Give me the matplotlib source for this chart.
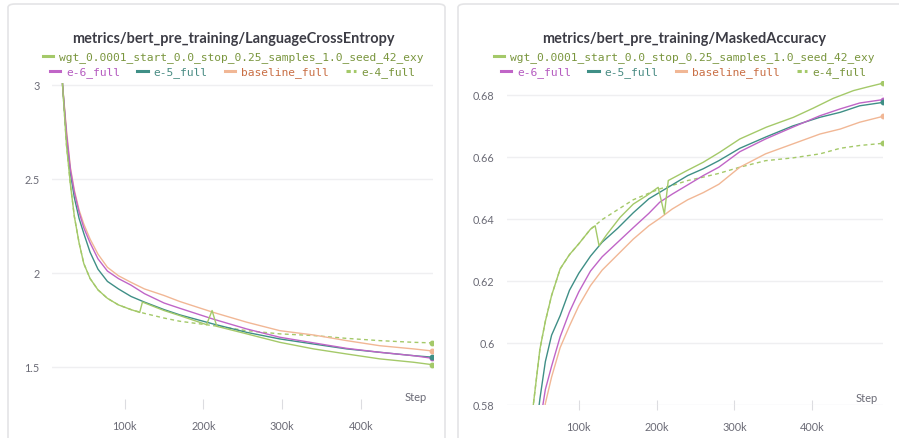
import numpy as np
import matplotlib.pyplot as plt
from matplotlib.patches import FancyBboxPatch

# steps (k) shared by the plain runs
steps_l = [12, 21, 26, 31, 36, 42, 48, 56, 66, 78, 92, 108, 125, 150, 170, 212, 255, 297, 340, 382, 424, 467, 491]
e6_l = [4.0, 3.0, 2.74, 2.55, 2.43, 2.323, 2.24, 2.16, 2.075, 2.01, 1.97, 1.935, 1.89, 1.84, 1.812, 1.755, 1.702, 1.658, 1.628, 1.599, 1.578, 1.560, 1.546]
e5_l = [4.0, 3.0, 2.72, 2.53, 2.40, 2.29, 2.21, 2.11, 2.02, 1.955, 1.915, 1.875, 1.845, 1.805, 1.777, 1.729, 1.684, 1.649, 1.622, 1.596, 1.578, 1.560, 1.552]
base_l = [4.0, 3.0, 2.76, 2.56, 2.44, 2.335, 2.26, 2.18, 2.10, 2.03, 1.985, 1.95, 1.915, 1.88, 1.848, 1.791, 1.738, 1.693, 1.670, 1.640, 1.613, 1.596, 1.585]
e4_l = [4.0, 3.0, 2.68, 2.47, 2.30, 2.16, 2.05, 1.97, 1.91, 1.865, 1.83, 1.805, 1.785, 1.76, 1.743, 1.72, 1.693, 1.676, 1.667, 1.652, 1.640, 1.631, 1.628]
wgt_steps_l = [12, 21, 26, 31, 36, 42, 48, 56, 66, 78, 92, 108, 119, 122.5, 150, 170, 204, 211, 217, 255, 297, 340, 382, 424, 467, 491]
wgt_l = [4.0, 3.0, 2.68, 2.47, 2.30, 2.16, 2.05, 1.97, 1.91, 1.865, 1.83, 1.805, 1.79, 1.845, 1.80, 1.773, 1.725, 1.80, 1.716, 1.676, 1.631, 1.596, 1.569, 1.543, 1.525, 1.512]

steps_r = [30, 41.5, 50, 57, 65, 76, 88, 100, 115, 130, 150, 170, 190, 204, 220, 240, 260, 280, 307, 340, 375, 410, 436, 461, 491]
e6_r = [0.52, 0.555, 0.574, 0.585, 0.5925, 0.602, 0.610, 0.6165, 0.6232, 0.6278, 0.6325, 0.6372, 0.6418, 0.6454, 0.648, 0.651, 0.654, 0.6567, 0.6617, 0.6658, 0.6696, 0.6733, 0.6755, 0.6774, 0.6785]
e5_r = [0.53, 0.565, 0.582, 0.594, 0.6025, 0.6088, 0.617, 0.6225, 0.628, 0.6325, 0.637, 0.642, 0.6465, 0.6486, 0.651, 0.654, 0.6562, 0.6588, 0.6628, 0.6664, 0.6700, 0.6728, 0.6744, 0.6765, 0.6776]
base_r = [0.515, 0.55, 0.568, 0.5805, 0.589, 0.5985, 0.6055, 0.612, 0.6185, 0.6235, 0.6285, 0.6335, 0.6378, 0.6402, 0.6432, 0.6462, 0.6485, 0.6512, 0.6567, 0.661, 0.6642, 0.6674, 0.669, 0.6712, 0.6731]
e4_r = [0.535, 0.58, 0.598, 0.607, 0.6153, 0.6239, 0.6285, 0.632, 0.6367, 0.6398, 0.643, 0.6462, 0.6483, 0.6497, 0.6508, 0.6524, 0.6535, 0.6547, 0.6567, 0.6588, 0.6597, 0.661, 0.6628, 0.6637, 0.6644]
wgt_steps_r = [30, 41.5, 50, 57, 65, 76, 88, 100, 115, 121, 126, 136, 153, 170, 187, 202, 210, 215, 239, 260, 281, 307, 341, 376, 401, 427, 453, 470, 491]
wgt_r = [0.535, 0.58, 0.598, 0.607, 0.6153, 0.6239, 0.6285, 0.632, 0.6367, 0.6378, 0.6314, 0.635, 0.6405, 0.6448, 0.6475, 0.6502, 0.6416, 0.6524, 0.6556, 0.6583, 0.6615, 0.6658, 0.6696, 0.6728, 0.6757, 0.6789, 0.6814, 0.6825, 0.6838]

names = ['wgt_0.0001_start_0.0_stop_0.25_samples_1.0_seed_42_exy', 'e-6_full', 'e-5_full', 'baseline_full', 'e-4_full']
line_colors = ['#a4c969', '#c065c7', '#3f8f86', '#f1b795', '#a4c969']
text_colors = ['#7a963e', '#b55bc0', '#4a8c84', '#c96f45', '#7a963e']

fig = plt.figure(figsize=(8.99, 4.39), dpi=100)
fig.patch.set_facecolor('white')

# cards
for x0, x1 in [(8, 445), (458, 910)]:
    fig.patches.append(FancyBboxPatch((x0 / 899, -0.05), (x1 - x0) / 899, (439 - 5) / 439 + 0.05,
                                      boxstyle='round,pad=0,rounding_size=0.008', transform=fig.transFigure,
                                      fc='none', ec='#e4e4e6', lw=1.2, zorder=-1))


def panel(rect, title, xlim, ylim, yticks, yticklabels, series, title_x):
    ax = fig.add_axes(rect)
    ax.set_facecolor('none')
    handles = []
    for i, (xs, ys) in enumerate(series):
        xs = np.array(xs) * 1000
        ls = (0, (2.8, 2.4)) if i == 4 else '-'
        h, = ax.plot(xs, ys, color=line_colors[i], lw=1.0, ls=ls, label=names[i], zorder=3 + (4 - i) * 0.1)
        ax.plot(xs[-1], ys[-1], 'o', color=line_colors[i], ms=3.2, zorder=4)
        handles.append(h)
    ax.set_xlim(*xlim)
    ax.set_ylim(*ylim)
    ax.set_yticks(yticks)
    ax.set_yticklabels(yticklabels)
    ax.set_xticks([100000, 200000, 300000, 400000])
    ax.set_xticklabels(['100k', '200k', '300k', '400k'])
    for s in ax.spines.values():
        s.set_visible(False)
    ax.grid(axis='y', color='#efeff1', lw=1.0)
    ax.tick_params(axis='y', length=0, pad=9, labelsize=7.8, labelcolor='#6b6b76')
    ax.tick_params(axis='x', direction='inout', length=7, width=0.8, color='#dcdce0', pad=8,
                   labelsize=7.8, labelcolor='#6b6b76')
    for lab in ax.get_xticklabels() + ax.get_yticklabels():
        lab.set_fontfamily('Lato')
    ax.text(0.985, 0.005, 'Step', transform=ax.transAxes, ha='right', va='bottom',
            fontsize=8, color='#6b6b76', family='Lato')
    fig.text(title_x, 1 - 39 / 439, title, ha='center', va='center', fontsize=10.45,
             fontweight='bold', color='#3c3c45', family='Lato')
    leg1 = fig.legend([handles[0]], [names[0]], loc='center', bbox_to_anchor=(title_x, 1 - 58 / 439),
                      frameon=False, prop={'family': 'DejaVu Sans Mono', 'size': 8.1},
                      handlelength=0.9, handletextpad=0.55, borderpad=0, borderaxespad=0)
    leg1.get_texts()[0].set_color(text_colors[0])
    leg2 = fig.legend(handles[1:], names[1:], loc='center', bbox_to_anchor=(title_x, 1 - 73 / 439),
                      frameon=False, ncol=4, prop={'family': 'DejaVu Sans Mono', 'size': 8.1},
                      handlelength=0.9, handletextpad=0.55, columnspacing=1.5, borderpad=0, borderaxespad=0)
    for t, c in zip(leg2.get_texts(), text_colors[1:]):
        t.set_color(c)
    for lg in (leg1, leg2):
        for lh in lg.get_lines():
            lh.set_linewidth(2.2)
    leg2.get_lines()[-1].set_linestyle((0, (1.4, 1.0)))
    return ax


panel([52 / 899, 1 - 405 / 439, 381 / 899, 321 / 439], 'metrics/bert_pre_training/LanguageCrossEntropy',
      (7600, 491700), (1.303, 3.01), [1.5, 2, 2.5, 3], ['1.5', '2', '2.5', '3'],
      [(wgt_steps_l, wgt_l), (steps_l, e6_l), (steps_l, e5_l), (steps_l, base_l), (steps_l, e4_l)], 233 / 899)

panel([507 / 899, 1 - 406 / 439, 376 / 899, 324 / 439], 'metrics/bert_pre_training/MaskedAccuracy',
      (7700, 491000), (0.58, 0.6845), [0.58, 0.6, 0.62, 0.64, 0.66, 0.68], ['0.58', '0.6', '0.62', '0.64', '0.66', '0.68'],
      [(wgt_steps_r, wgt_r), (steps_r, e6_r), (steps_r, e5_r), (steps_r, base_r), (steps_r, e4_r)], 684 / 899)

plt.savefig('out.png', dpi=100)
